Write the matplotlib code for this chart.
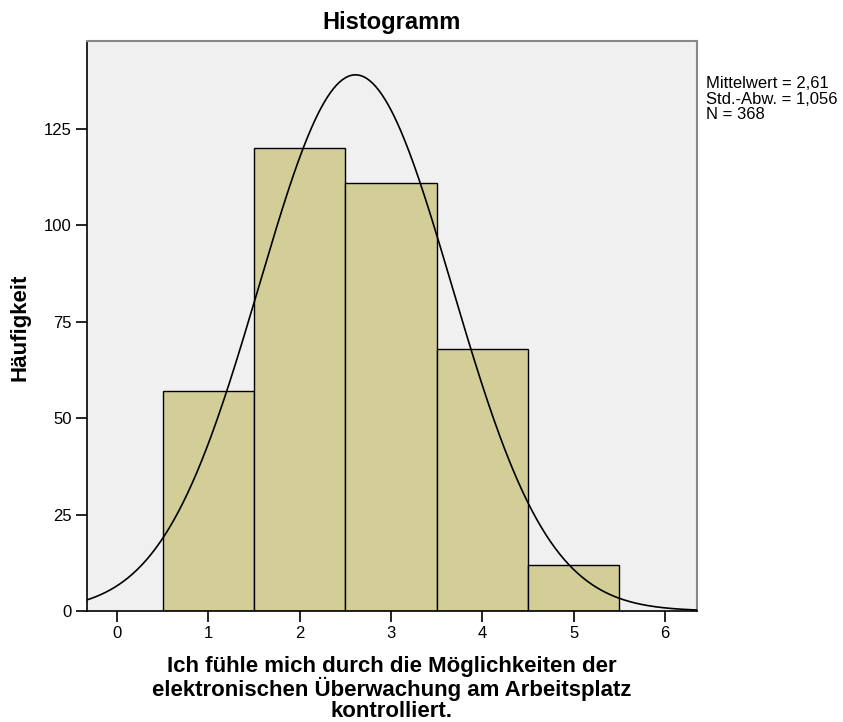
import numpy as np
import matplotlib
matplotlib.use("Agg")
import matplotlib.pyplot as plt

plt.rcParams['font.family'] = ['Liberation Sans', 'DejaVu Sans']

categories = [1, 2, 3, 4, 5]
counts = [57, 120, 111, 68, 12]
mean = 2.61
sd = 1.056
n = 368
xticks = [0, 1, 2, 3, 4, 5, 6]
yticks = [0, 25, 50, 75, 100, 125]

fig = plt.figure(figsize=(8.43, 7.22), dpi=100)
L, R, T, B = 87, 697, 41, 611
ax = fig.add_axes([L/843, 1-B/722, (R-L)/843, (B-T)/722])
ax.set_facecolor('#f0f0f0')

ax.bar(categories, counts, width=1.0, color='#d3ce98', edgecolor='black', linewidth=1.0, zorder=2)

xs = np.linspace(-0.33, 6.35, 400)
ys = n * 1.0 / (sd * np.sqrt(2*np.pi)) * np.exp(-0.5*((xs-mean)/sd)**2)
ax.plot(xs, ys, color='black', linewidth=1.2, zorder=3)

ax.set_xlim(-0.33, 6.35)
ax.set_ylim(0, 147.8)
ax.set_xticks(xticks)
ax.set_yticks(yticks)
ax.tick_params(axis='both', direction='out', length=8, width=1.2, labelsize=12, colors='black', pad=3)
for s in ['left', 'bottom']:
    ax.spines[s].set_color('black')
    ax.spines[s].set_linewidth(1.2)
for s in ['top', 'right']:
    ax.spines[s].set_color('#888888')
    ax.spines[s].set_linewidth(1.5)

fig.text((L+R)/2/843, 1-22/722, 'Histogramm', fontsize=17, fontweight='bold', ha='center', va='center')
fig.text(20/843, 1-327/722, 'Häufigkeit', fontsize=16, fontweight='bold', ha='center', va='center', rotation=90)
fig.text((L+R)/2/843, 1-689/722,
         'Ich fühle mich durch die Möglichkeiten der\nelektronischen Überwachung am Arbeitsplatz\nkontrolliert.',
         fontsize=16, fontweight='bold', ha='center', va='center', linespacing=1.0)

fig.text(706/843, 1-99/722, 'Mittelwert = 2,61\nStd.-Abw. = 1,056\nN = 368',
         fontsize=12, va='center', ha='left', linespacing=1.08)

fig.savefig('out.png', dpi=100)
